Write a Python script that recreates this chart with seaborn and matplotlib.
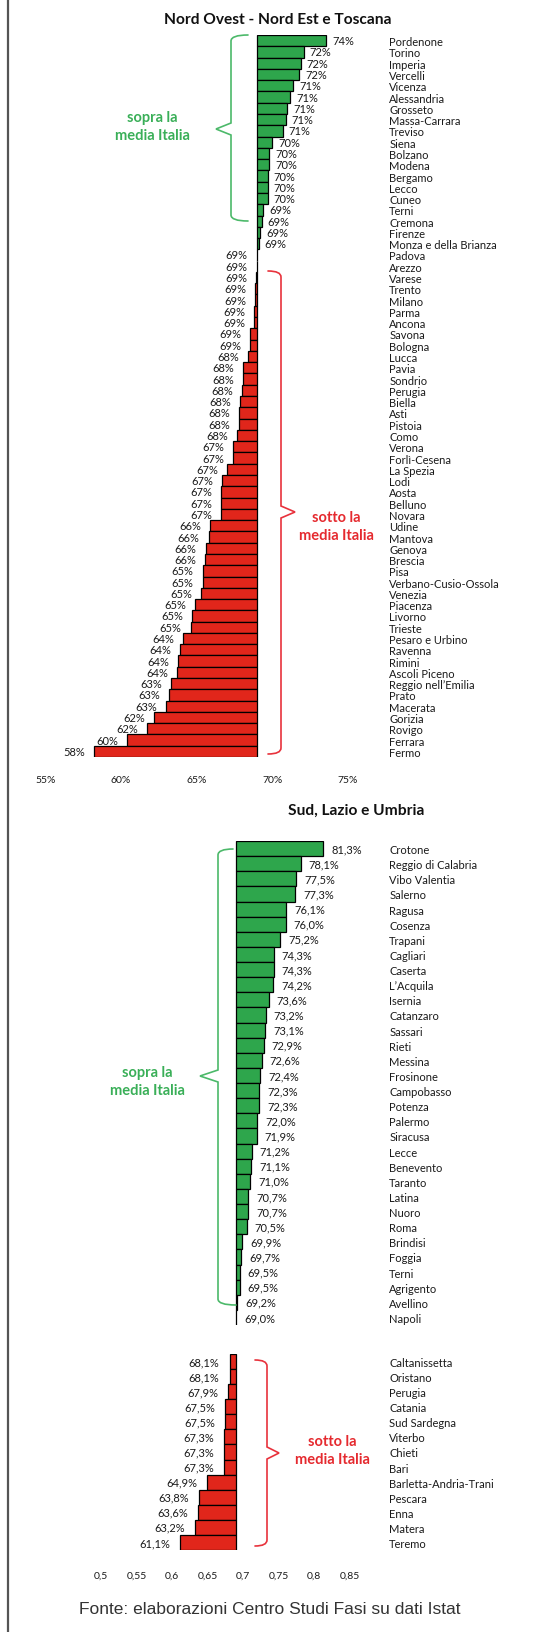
import numpy as np
import pandas as pd
import matplotlib
matplotlib.use("Agg")
import matplotlib.pyplot as plt
from matplotlib.path import Path
from matplotlib.patches import PathPatch
import seaborn as sns

# ---------------- data ----------------
MEDIA = 69.0

nord_names = [
    "Pordenone", "Torino", "Imperia", "Vercelli", "Vicenza", "Alessandria",
    "Grosseto", "Massa-Carrara", "Treviso", "Siena", "Bolzano", "Modena",
    "Bergamo", "Lecco", "Cuneo", "Terni", "Cremona", "Firenze",
    "Monza e della Brianza", "Padova", "Arezzo", "Varese", "Trento", "Milano",
    "Parma", "Ancona", "Savona", "Bologna", "Lucca", "Pavia", "Sondrio",
    "Perugia", "Biella", "Asti", "Pistoia", "Como", "Verona", "Forlì-Cesena",
    "La Spezia", "Lodi", "Aosta", "Belluno", "Novara", "Udine", "Mantova",
    "Genova", "Brescia", "Pisa", "Verbano-Cusio-Ossola", "Venezia", "Piacenza",
    "Livorno", "Trieste", "Pesaro e Urbino", "Ravenna", "Rimini",
    "Ascoli Piceno", "Reggio nell\u2019Emilia", "Prato", "Macerata", "Gorizia",
    "Rovigo", "Ferrara", "Fermo",
]
nord_values = [
    73.6, 72.1, 71.9, 71.8, 71.4, 71.2,
    71.0, 70.9, 70.7, 70.0, 69.8, 69.8,
    69.7, 69.7, 69.7, 69.4, 69.3, 69.2,
    69.1, 68.98, 68.98, 68.96, 68.9, 68.9,
    68.8, 68.8, 68.55, 68.55, 68.4, 68.1, 68.1,
    68.0, 67.9, 67.8, 67.8, 67.7, 67.4, 67.4,
    67.0, 66.7, 66.6, 66.6, 66.6, 65.9, 65.8,
    65.6, 65.55, 65.4, 65.4, 65.3, 64.9,
    64.7, 64.6, 64.1, 63.9, 63.8,
    63.7, 63.3, 63.2, 63.0, 62.2,
    61.7, 60.4, 58.2,
]

sud_sopra_names = [
    "Crotone", "Reggio di Calabria", "Vibo Valentia", "Salerno", "Ragusa",
    "Cosenza", "Trapani", "Cagliari", "Caserta", "L\u2019Acquila", "Isernia",
    "Catanzaro", "Sassari", "Rieti", "Messina", "Frosinone", "Campobasso",
    "Potenza", "Palermo", "Siracusa", "Lecce", "Benevento", "Taranto",
    "Latina", "Nuoro", "Roma", "Brindisi", "Foggia", "Terni", "Agrigento",
    "Avellino", "Napoli",
]
sud_sopra_values = [
    81.3, 78.1, 77.5, 77.3, 76.1,
    76.0, 75.2, 74.3, 74.3, 74.2, 73.6,
    73.2, 73.1, 72.9, 72.6, 72.4, 72.3,
    72.3, 72.0, 71.9, 71.2, 71.1, 71.0,
    70.7, 70.7, 70.5, 69.9, 69.7, 69.5, 69.5,
    69.2, 69.0,
]

sud_sotto_names = [
    "Caltanissetta", "Oristano", "Perugia", "Catania", "Sud Sardegna",
    "Viterbo", "Chieti", "Bari", "Barletta-Andria-Trani", "Pescara", "Enna",
    "Matera", "Teremo",
]
sud_sotto_values = [
    68.1, 68.1, 67.9, 67.5, 67.5,
    67.3, 67.3, 67.3, 64.9, 63.8, 63.6,
    63.2, 61.1,
]

top_ticks = [55, 60, 65, 70, 75]
top_tick_labels = ["55%", "60%", "65%", "70%", "75%"]
bottom_ticks = [50, 55, 60, 65, 70, 75, 80, 85]
bottom_tick_labels = ["0,5", "0,55", "0,6", "0,65", "0,7", "0,75", "0,8", "0,85"]

title_nord = "Nord Ovest - Nord Est e Toscana"
title_sud = "Sud, Lazio e Umbria"
sopra_text = "sopra la\nmedia Italia"
sotto_text = "sotto la\nmedia Italia"
source_text = "Fonte: elaborazioni Centro Studi Fasi su dati Istat"

# ---------------- style ----------------
GREEN = "#2ea64c"
RED = "#e1261b"
BRACE_GREEN = "#4cb96a"
BRACE_RED = "#e8323c"
TXT_GREEN = "#3aaf58"
TXT_RED = "#e52a2f"
TXT = "#1a1a1a"

sns.set_theme(style="white")
plt.rcParams["font.family"] = ["Lato", "DejaVu Sans"]

W, H = 548, 1633
fig = plt.figure(figsize=(W / 100, H / 100), dpi=100)


def px_axes(left, top, right, bottom):
    return fig.add_axes([left / W, 1 - bottom / H, (right - left) / W, (bottom - top) / H])


def draw(ax, names, values, fmt, xlim, ticks, tick_labels, show_x, xpad,
         pos_off, neg_off):
    dev = np.array(values) - MEDIA
    df = pd.DataFrame({"name": names, "dev": dev,
                       "group": np.where(dev >= 0, "sopra", "sotto")})
    sns.barplot(data=df, y="name", x="dev", hue="group", order=names,
                palette={"sopra": GREEN, "sotto": RED}, dodge=False,
                saturation=1, width=1.0, edgecolor="black", linewidth=0.9,
                ax=ax, legend=False, orient="h")
    for i, (v, d) in enumerate(zip(values, dev)):
        if d >= 0:
            ax.annotate(fmt(v), (d, i), xytext=(pos_off, 0), textcoords="offset pixels",
                        ha="left", va="center", fontsize=8, color=TXT)
        else:
            ax.annotate(fmt(v), (d, i), xytext=(-neg_off, 0), textcoords="offset pixels",
                        ha="right", va="center", fontsize=8, color=TXT)
    ax.set_xlim(*xlim)
    ax.yaxis.tick_right()
    ax.tick_params(axis="y", length=0, pad=3, labelsize=8, labelcolor=TXT)
    ax.set_ylabel("")
    ax.set_xlabel("")
    if show_x:
        ax.set_xticks([t - MEDIA for t in ticks])
        ax.set_xticklabels(tick_labels)
        ax.tick_params(axis="x", length=0, pad=xpad, labelsize=7.5, labelcolor=TXT)
    else:
        ax.set_xticks([])
    for s in ax.spines.values():
        s.set_visible(False)
    ax.patch.set_alpha(0)


# top chart: baseline at x=257 px, 15.1 px per %
top_scale = 15.1
ax1 = px_axes(30, 36, 385, 758)
draw(ax1, nord_names, nord_values, lambda v: f"{v:.0f}%",
     ((30 - 257) / top_scale, (385 - 257) / top_scale),
     top_ticks, top_tick_labels, True, 13, 6, 9)

# bottom chart: baseline at x=236 px, 7.1 px per %
bot_scale = 7.1
bxlim = ((30 - 236) / bot_scale, (385 - 236) / bot_scale)
ax2 = px_axes(30, 842, 385, 1326)
draw(ax2, sud_sopra_names, sud_sopra_values,
     lambda v: f"{v:.1f}%".replace(".", ","), bxlim,
     bottom_ticks, bottom_tick_labels, False, 0, 8, 10)
ax3 = px_axes(30, 1355, 385, 1551)
draw(ax3, sud_sotto_names, sud_sotto_values,
     lambda v: f"{v:.1f}%".replace(".", ","), bxlim,
     bottom_ticks, bottom_tick_labels, True, 15, 8, 10)

# ---------------- overlay (pixel coordinates) ----------------
ax0 = fig.add_axes([0, 0, 1, 1])
ax0.set_xlim(0, W)
ax0.set_ylim(H, 0)
ax0.axis("off")
ax0.patch.set_alpha(0)


def brace(x_line, y_top, y_bot, y_mid, x_end_top, x_end_bot, x_tip, color, r=6, notch=6):
    verts = [
        (x_end_top, y_top),
        (x_line, y_top), (x_line, y_top + r),
        (x_line, y_mid - notch),
        (x_tip, y_mid),
        (x_line, y_mid + notch),
        (x_line, y_bot - r),
        (x_line, y_bot), (x_end_bot, y_bot),
    ]
    codes = [Path.MOVETO, Path.CURVE3, Path.CURVE3, Path.LINETO, Path.LINETO,
             Path.LINETO, Path.LINETO, Path.CURVE3, Path.CURVE3]
    ax0.add_patch(PathPatch(Path(verts, codes), fill=False, edgecolor=color,
                            linewidth=1.2, capstyle="round", joinstyle="miter"))


brace(231, 36, 222, 130, 248, 248, 216, BRACE_GREEN)
brace(281, 272, 755, 513, 268, 268, 295, BRACE_RED)
brace(218, 850, 1306, 1077, 233, 236, 200, BRACE_GREEN)
brace(267, 1361, 1547, 1454, 255, 255, 279, BRACE_RED)

for (x, y, txt, col) in [(152, 127, sopra_text, TXT_GREEN),
                         (336, 527, sotto_text, TXT_RED),
                         (147, 1082, sopra_text, TXT_GREEN),
                         (332, 1451, sotto_text, TXT_RED)]:
    ax0.text(x, y, txt, ha="center", va="center", multialignment="center",
             fontsize=10.5, fontweight="bold", color=col, linespacing=1.3)

ax0.text(278, 20, title_nord, ha="center", va="center", fontsize=11.2,
         fontweight="bold", color="#111111")
ax0.text(356, 811, title_sud, ha="center", va="center", fontsize=11.2,
         fontweight="bold", color="#111111")
ax0.text(270, 1610, source_text, ha="center", va="center", fontsize=12.5,
         color="#333333", family=["Liberation Sans", "DejaVu Sans"])

ax0.plot([7.5, 7.5], [0, H], color="#555555", linewidth=1.6, solid_capstyle="butt")

fig.savefig("out.png", dpi=100)
